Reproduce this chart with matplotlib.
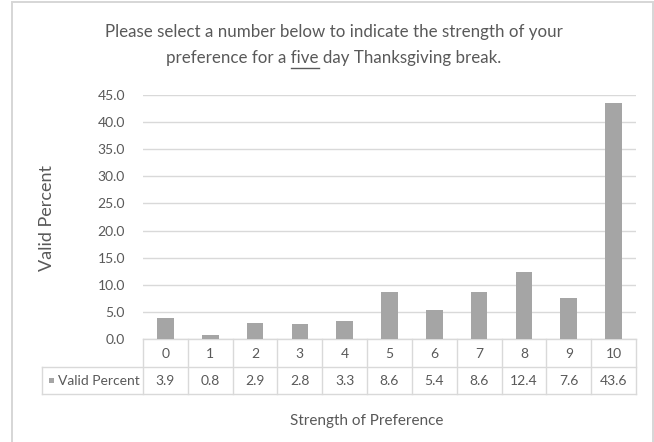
import matplotlib
matplotlib.use("Agg")
import matplotlib.pyplot as plt
from matplotlib.patches import Rectangle
from matplotlib.lines import Line2D

categories = ["0", "1", "2", "3", "4", "5", "6", "7", "8", "9", "10"]
valid_percent = [3.9, 0.8, 2.9, 2.8, 3.3, 8.6, 5.4, 8.6, 12.4, 7.6, 43.6]
series_name = "Valid Percent"
y_ticks = [0, 5, 10, 15, 20, 25, 30, 35, 40, 45]
title_line1 = "Please select a number below to indicate the strength of your"
title_pre = "preference for a "
title_under = "five"
title_post = " day Thanksgiving break."
x_label = "Strength of Preference"
y_label = "Valid Percent"

W, H = 654, 442
FONT = "Lato"
TXT = "#595959"
GRID = "#d9d9d9"
BAR = "#a5a5a5"

plt.rcParams["font.family"] = [FONT, "DejaVu Sans"]

fig = plt.figure(figsize=(W / 100, H / 100), dpi=100)
fig.patch.set_facecolor("white")

def px(x, y):
    return x / W, 1 - y / H

# outer chart border (bottom edge runs off the canvas)
fig.add_artist(Rectangle(px(12, 446), 641 / W, 444 / H, transform=fig.transFigure,
                         fill=False, edgecolor="#d6d6d6", linewidth=1.4))

left, right, top, bottom = 143, 636, 95, 339
ax = fig.add_axes([left / W, 1 - bottom / H, (right - left) / W, (bottom - top) / H])
n = len(categories)
xs = list(range(n))
ax.bar(xs, valid_percent, width=0.37, color=BAR, zorder=3)
ax.set_xlim(-0.5, n - 0.5)
ax.set_ylim(0, 45)
ax.set_yticks(y_ticks)
ax.set_yticklabels([f"{v:.1f}" for v in y_ticks])
ax.yaxis.grid(True, color=GRID, linewidth=1.0, zorder=0)
ax.set_xticks([])
ax.tick_params(axis="y", length=0, pad=13, labelsize=10, labelcolor=TXT)
for s in ["top", "right", "left"]:
    ax.spines[s].set_visible(False)
ax.spines["bottom"].set_color(GRID)
ax.spines["bottom"].set_linewidth(1.0)

# data table below the axis
def hline(x0, x1, y):
    fig.add_artist(Line2D([x0 / W, x1 / W], [1 - y / H, 1 - y / H],
                          transform=fig.transFigure, color=GRID, linewidth=1.0))

def vline(x, y0, y1):
    fig.add_artist(Line2D([x / W, x / W], [1 - y0 / H, 1 - y1 / H],
                          transform=fig.transFigure, color=GRID, linewidth=1.0))

row1_top, row1_bot, row2_bot = 339, 367, 394
leg_left = 42
col_w = (right - left) / n
hline(leg_left, right, row1_bot)
hline(leg_left, right, row2_bot)
vline(leg_left, row1_bot, row2_bot)
for i in range(n + 1):
    vline(left + i * col_w, row1_top, row2_bot)

TS = 10
for i, (c, v) in enumerate(zip(categories, valid_percent)):
    cx = left + (i + 0.5) * col_w
    fig.text(*px(cx, (row1_top + row1_bot) / 2 + 0.5), c, ha="center", va="center",
             fontsize=TS, color=TXT)
    fig.text(*px(cx, (row1_bot + row2_bot) / 2 + 0.5), f"{v:.1f}", ha="center", va="center",
             fontsize=TS, color=TXT)

fig.add_artist(Rectangle(px(49, 383), 5 / W, 5 / H, transform=fig.transFigure,
                         color=BAR, linewidth=0))
fig.text(*px(58, (row1_bot + row2_bot) / 2 + 0.5), series_name, ha="left", va="center",
         fontsize=TS, color=TXT)

renderer = fig.canvas.get_renderer()

# axis titles
fig.text(*px(47, 218), y_label, rotation=90, ha="center", va="center",
         fontsize=13, color=TXT)
fig.text(*px(367, 421), x_label, ha="center", va="center", fontsize=11, color=TXT)

# chart title, with "five" underlined
tsize = 12.2
fig.text(*px(334, 32), title_line1, ha="center", va="center", fontsize=tsize, color=TXT)
full2 = title_pre + title_under + title_post
t2 = fig.text(*px(334, 58), full2, ha="center", va="center", fontsize=tsize, color=TXT)
bb_full = t2.get_window_extent(renderer)
probe = fig.text(0, 0, title_pre.replace(" ", "\u00a0") + "|", fontsize=tsize)
w_pre = probe.get_window_extent(renderer).width
probe.set_text("|")
w_pre -= probe.get_window_extent(renderer).width
probe.set_text(title_under)
w_und = probe.get_window_extent(renderer).width
probe.remove()
x0 = bb_full.x0 + w_pre
y_ul = 1 - 68 / H
fig.add_artist(Line2D([x0 / W, (x0 + w_und) / W], [y_ul, y_ul], transform=fig.transFigure,
                      color=TXT, linewidth=1.0))

fig.savefig("out.png", dpi=100, facecolor="white")
